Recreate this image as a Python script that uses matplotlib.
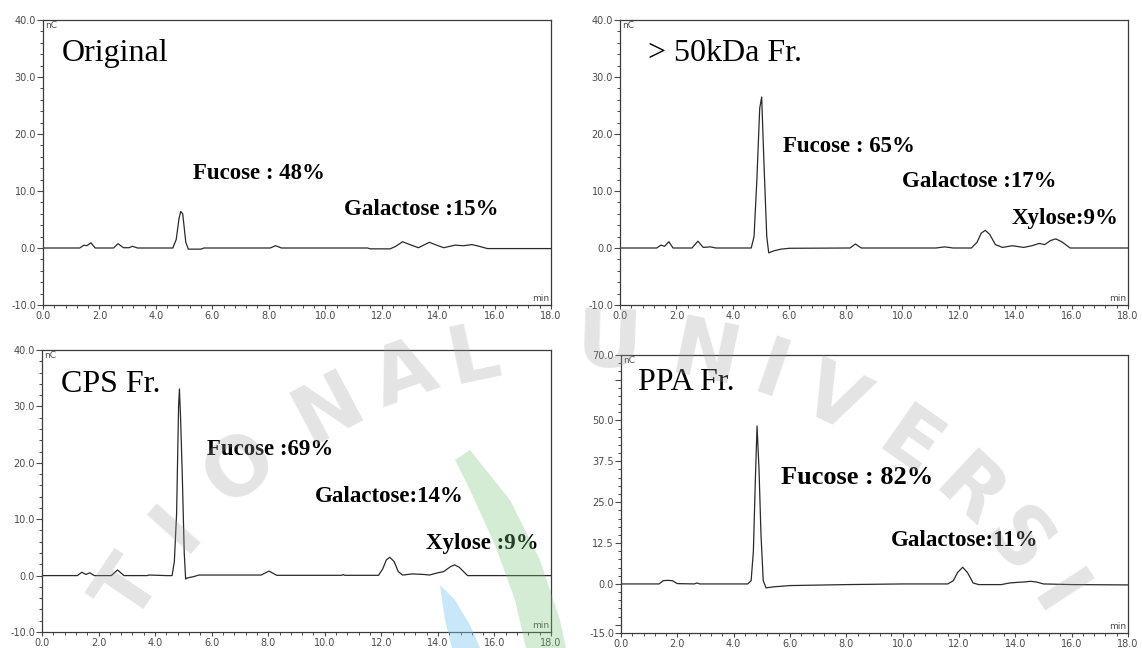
import matplotlib
matplotlib.use('Agg')
import matplotlib.pyplot as plt
import numpy as np
from matplotlib.patches import Polygon

# chromatogram traces (time in min, signal in nC)
orig_t = [0.0, 1.30, 1.45, 1.55, 1.70, 1.85, 2.50, 2.66, 2.85, 3.05, 3.17, 3.35, 4.60, 4.72, 4.82, 4.88, 4.95,
          5.06, 5.15, 5.30, 5.60, 5.70, 8.05, 8.24, 8.45, 11.50, 11.60, 12.30, 12.50, 12.74, 13.00, 13.30,
          13.69, 14.00, 14.20, 14.60, 14.90, 15.20, 15.45, 15.75, 18.0]
orig_y = [0, 0, 0.5, 0.4, 0.9, 0, 0, 0.75, 0.05, 0.05, 0.3, 0, 0, 1.5, 5.2, 6.4, 6.0,
          1.0, -0.2, -0.2, -0.2, 0, 0, 0.4, 0, 0, -0.15, -0.15, 0.3, 1.1, 0.6, 0.05,
          1.0, 0.4, 0.05, 0.5, 0.4, 0.6, 0.3, -0.1, -0.1]

k50_t = [0, 1.30, 1.45, 1.58, 1.73, 1.88, 2.55, 2.76, 2.95, 3.20, 3.40, 4.65, 4.75, 4.85, 4.95, 5.02, 5.10,
         5.20, 5.27, 5.45, 5.70, 6.0, 8.15, 8.34, 8.55, 11.2, 11.5, 11.8, 12.45, 12.65, 12.80, 12.94, 13.10,
         13.30, 13.55, 13.90, 14.30, 14.60, 14.85, 15.05, 15.25, 15.44, 15.65, 15.95, 18.0]
k50_y = [0, 0, 0.5, 0.3, 1.1, 0, 0, 1.2, 0.1, 0.2, 0, 0, 2.0, 12.0, 24.5, 26.5, 15.0,
         2.0, -0.85, -0.5, -0.2, -0.05, 0, 0.7, 0, 0, 0.2, 0, 0, 1.0, 2.6, 3.1, 2.4,
         0.6, 0.1, 0.4, 0.1, 0.4, 0.8, 0.6, 1.3, 1.6, 1.1, 0, 0]

cps_t = [0, 1.25, 1.41, 1.55, 1.69, 1.85, 2.45, 2.67, 2.90, 3.70, 3.80, 4.40, 4.60, 4.68, 4.76, 4.83, 4.86,
         4.90, 4.96, 5.03, 5.08, 5.15, 5.35, 5.55, 7.75, 8.03, 8.30, 10.60, 10.65, 10.70, 11.90, 12.05,
         12.18, 12.30, 12.45, 12.60, 12.75, 13.10, 13.50, 13.70, 14.00, 14.20, 14.45, 14.59, 14.75, 15.05, 18.0]
cps_y = [0, 0, 0.6, 0.2, 0.5, 0, 0, 1.0, 0, 0, 0.1, 0, 0, 2.5, 11.0, 30.0, 33.1,
         28.0, 18.0, 4.0, -0.6, -0.4, -0.2, 0.1, 0.1, 0.8, 0.05, 0.05, 0.2, 0.05, 0.05, 1.2,
         2.8, 3.25, 2.5, 0.7, 0.1, 0.3, 0.2, 0.1, 0.5, 0.7, 1.6, 1.9, 1.5, 0, 0]

ppa_t = [0, 1.35, 1.50, 1.65, 1.82, 2.00, 2.60, 2.70, 2.80, 4.50, 4.62, 4.70, 4.77, 4.83, 4.90, 4.97, 5.05,
         5.15, 5.40, 6.00, 8.00, 10.00, 11.60, 11.80, 11.95, 12.13, 12.30, 12.50, 12.70, 13.50, 13.80,
         14.10, 14.30, 14.54, 14.75, 15.00, 16.00, 18.0]
ppa_y = [0, 0, 1.0, 1.1, 1.0, 0.1, 0, 0.3, 0, 0, 1.0, 10.0, 32.0, 48.3, 35.0, 15.0, 1.0,
         -1.2, -0.9, -0.5, -0.2, 0, 0, 1.0, 3.5, 5.1, 3.5, 0.3, -0.2, -0.2, 0.3,
         0.5, 0.6, 0.8, 0.6, 0, -0.2, -0.3]

xticks = [0, 2, 4, 6, 8, 10, 12, 14, 16, 18]
top_yticks = [-10, 0, 10, 20, 30, 40]
ppa_yticks = [-15, -12.5, 0, 12.5, 25, 37.5, 50, 62.5, 70]
ppa_ylabels = ['-15.0', '', '0.0', '12.5', '25.0', '37.5', '50.0', '', '70.0']

titles = ['Original', '> 50kDa Fr.', 'CPS Fr.', 'PPA Fr.']
# (label, time, signal, fontsize)
notes = [
    [('Fucose : 48%', 5.32, 13.1, 16.5), ('Galactose :15%', 10.67, 6.7, 16.5)],
    [('Fucose : 65%', 5.76, 17.8, 16.5), ('Galactose :17%', 9.99, 11.6, 16.5), ('Xylose:9%', 13.86, 5.2, 16.5)],
    [('Fucose :69%', 5.85, 22.4, 16.5), ('Galactose:14%', 9.65, 14.0, 16.5), ('Xylose :9%', 13.58, 5.7, 16.5)],
    [('Fucose : 82%', 5.68, 32.6, 19), ('Galactose:11%', 9.59, 13.3, 16.5)],
]
title_pos = [(0.65, 34.2), (0.99, 34.2), (0.68, 33.8), (0.62, 61.6)]

W, H = 1142, 648
fig = plt.figure(figsize=(W / 100, H / 100), dpi=100)
fig.patch.set_facecolor('white')

# axes boxes in pixels: left, right, top, bottom
boxes = [(43, 551, 20, 305), (620, 1128, 20, 305), (42, 551, 350, 632), (621, 1128, 355, 633)]
traces = [(orig_t, orig_y), (k50_t, k50_y), (cps_t, cps_y), (ppa_t, ppa_y)]

gray = '#4a4a4a'
for i, (l, r, t, b) in enumerate(boxes):
    ax = fig.add_axes([l / W, 1 - b / H, (r - l) / W, (b - t) / H])
    ax.plot(traces[i][0], traces[i][1], color='#2a2a2a', lw=0.9)
    ax.set_xlim(0, 18)
    ax.set_xticks(xticks)
    ax.set_xticklabels(['%.1f' % v for v in xticks])
    ax.set_xticks(np.arange(0, 18.01, 0.4), minor=True)
    if i < 3:
        ax.set_ylim(-10, 40)
        ax.set_yticks(top_yticks)
        ax.set_yticklabels(['%.1f' % v for v in top_yticks])
        ax.set_yticks(np.arange(-10, 40.01, 2), minor=True)
    else:
        ax.set_ylim(-15, 70)
        ax.set_yticks(ppa_yticks)
        ax.set_yticklabels(ppa_ylabels)
        ax.set_yticks(np.arange(-15, 70.01, 2.5), minor=True)
    ax.tick_params(which='major', direction='out', length=4, width=0.8, color=gray,
                   labelsize=7, labelcolor=gray, pad=1)
    ax.tick_params(which='minor', direction='out', length=2, width=0.7, color=gray)
    ax.tick_params(axis='x', which='major', length=3)
    for s in ax.spines.values():
        s.set_color('#3a3a3a')
        s.set_linewidth(0.9)
    ax.text(0.004, 0.997, 'nC', transform=ax.transAxes, ha='left', va='top', fontsize=6.5, color=gray)
    ax.text(0.997, 0.008, 'min', transform=ax.transAxes, ha='right', va='bottom', fontsize=6.5, color=gray)
    ax.text(title_pos[i][0], title_pos[i][1], titles[i], ha='left', va='center',
            fontsize=23, family='Liberation Serif', color='black')
    for txt, x, y, fs in notes[i]:
        ax.text(x, y, txt, ha='left', va='center', fontsize=fs, fontweight='bold',
                family='Liberation Serif', color='black')

# faint thesis watermark over the figure
word = 'TIONAL UNIVERSI'
angles = [-56, -48, -39, -28, -19.5, -12, None, 2, 12, 19, 26, 35, 43, 50, 57]
cx, cy, R = 590, 900, 555
for ch, a in zip(word, angles):
    if a is None:
        continue
    px = cx + R * np.sin(np.radians(a))
    py = cy - R * np.cos(np.radians(a))
    fig.text(px / W, 1 - py / H, ch, rotation=-a, ha='center', va='center', fontsize=58,
             fontweight='bold', color='#a0a0a0', alpha=0.28, zorder=5)

green = [(470, 450), (510, 500), (540, 560), (560, 620), (566, 648), (526, 648), (515, 600),
         (495, 545), (470, 490), (455, 460)]
blue = [(440, 585), (455, 600), (470, 625), (480, 648), (452, 648), (445, 620)]
for pts, c, al in [(green, '#7cc47a', 0.32), (blue, '#7ec8f0', 0.42)]:
    fig.add_artist(Polygon([(x / W, 1 - y / H) for x, y in pts], closed=True, transform=fig.transFigure,
                           facecolor=c, edgecolor='none', alpha=al, zorder=4))

fig.savefig('out.png', dpi=100, facecolor='white')
